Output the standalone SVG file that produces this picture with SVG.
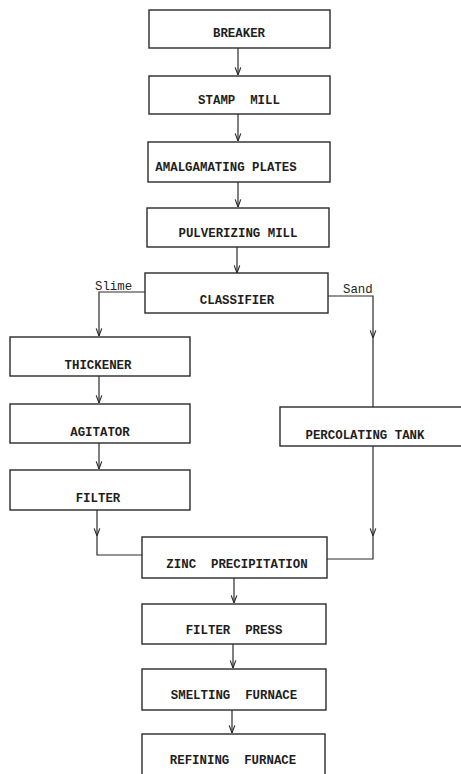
<svg xmlns="http://www.w3.org/2000/svg" width="461" height="774" viewBox="0 0 461 774">
<defs>
<marker id="arr" viewBox="0 0 10 10" refX="9.5" refY="5" markerWidth="8" markerHeight="8" markerUnits="userSpaceOnUse" orient="auto">
<path d="M0,1.5 L9.5,5 L0,8.5" fill="none" stroke="#2a2a2a" stroke-width="1.4"/>
</marker>
<style>
rect{fill:#fff;stroke:#2a2a2a;stroke-width:1.4}
.t{font-family:"Liberation Mono","DejaVu Sans Mono",monospace;font-size:12.4px;font-weight:bold;fill:#1e1e1e;text-anchor:middle;white-space:pre}
.l{font-family:"Liberation Mono","DejaVu Sans Mono",monospace;font-size:12.4px;fill:#1e1e1e;white-space:pre}
.c{fill:none;stroke:#2a2a2a;stroke-width:1.2}
</style>
</defs>
<rect width="461" height="774" fill="#fff" style="stroke:none"/>
<g id="connectors">
<path class="c" d="M238,48 V75" marker-end="url(#arr)"/>
<path class="c" d="M238,114 V141" marker-end="url(#arr)"/>
<path class="c" d="M238,182 V207" marker-end="url(#arr)"/>
<path class="c" d="M237,247 V273" marker-end="url(#arr)"/>
<path class="c" d="M145,292 H99 V336" marker-end="url(#arr)"/>
<path class="c" d="M328,296 H373 V338" marker-end="url(#arr)"/>
<path class="c" d="M373,338 V407"/>
<path class="c" d="M99,376 V403" marker-end="url(#arr)"/>
<path class="c" d="M99,443 V469" marker-end="url(#arr)"/>
<path class="c" d="M97,510 V536" marker-end="url(#arr)"/>
<path class="c" d="M97,536 V555 H142"/>
<path class="c" d="M373,446 V536" marker-end="url(#arr)"/>
<path class="c" d="M373,536 V559 H327"/>
<path class="c" d="M234,578 V603" marker-end="url(#arr)"/>
<path class="c" d="M233,644 V668" marker-end="url(#arr)"/>
<path class="c" d="M232,710 V733" marker-end="url(#arr)"/>
<text class="l" x="95" y="290">Slime</text>
<text class="l" x="343" y="293">Sand</text>
</g>
<g id="breaker"><rect x="149" y="10" width="181" height="38"/><text class="t" x="239" y="37">BREAKER</text></g>
<g id="stamp-mill"><rect x="149" y="76" width="181" height="38"/><text class="t" x="239" y="104">STAMP  MILL</text></g>
<g id="amalgamating-plates"><rect x="148" y="142" width="182" height="40"/><text class="t" x="226" y="171">AMALGAMATING PLATES</text></g>
<g id="pulverizing-mill"><rect x="147" y="208" width="182" height="39"/><text class="t" x="238" y="237">PULVERIZING MILL</text></g>
<g id="classifier"><rect x="145" y="273" width="183" height="40"/><text class="t" x="237" y="304">CLASSIFIER</text></g>
<g id="thickener"><rect x="10" y="337" width="180" height="39"/><text class="t" x="98" y="369">THICKENER</text></g>
<g id="agitator"><rect x="10" y="404" width="180" height="39"/><text class="t" x="100" y="436">AGITATOR</text></g>
<g id="filter"><rect x="10" y="470" width="180" height="40"/><text class="t" x="98" y="502">FILTER</text></g>
<g id="percolating-tank"><rect x="280" y="407" width="190" height="39"/><text class="t" x="365" y="439">PERCOLATING TANK</text></g>
<g id="zinc-precipitation"><rect x="142" y="537" width="185" height="41"/><text class="t" x="237" y="568">ZINC  PRECIPITATION</text></g>
<g id="filter-press"><rect x="142" y="604" width="184" height="40"/><text class="t" x="234" y="634">FILTER  PRESS</text></g>
<g id="smelting-furnace"><rect x="142" y="669" width="184" height="41"/><text class="t" x="234" y="699">SMELTING  FURNACE</text></g>
<g id="refining-furnace"><rect x="142" y="734" width="183" height="50"/><text class="t" x="233" y="764">REFINING  FURNACE</text></g>
</svg>
